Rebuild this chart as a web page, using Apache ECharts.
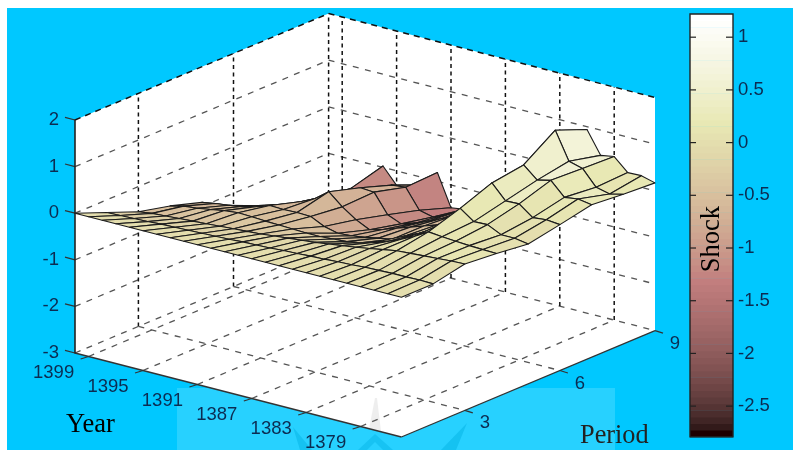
<!DOCTYPE html>
<html>
<head>
<meta charset="utf-8">
<style>html,body{margin:0;padding:0;background:#fff}#c{width:793px;height:450px}</style>
<script src="https://cdn.jsdelivr.net/npm/echarts@6/dist/echarts.min.js"></script>
</head>
<body>
<div id="c"></div>
<script>
// Data: one array per year, values for periods 1..9
const periods = [1,2,3,4,5,6,7,8,9];
const y1400 = [0,-.27,-.54,-.70,-.91,-1.33,-1.70,-2.20,-2.80];
const y1399 = [0,-.26,-.50,-.63,-.86,-1.25,-1.60,-2.00,-2.45];
const y1398 = [0,-.25,-.48,-.60,-.82,-1.12,-1.45,-1.75,-2.05];
const y1397 = [0,-.24,-.46,-.55,-.77,-1.02,-1.28,-1.45,-1.50];
const y1396 = [0,-.22,-.44,-.50,-.70,-.93,-1.10,-1.16,-.97];
const y1395 = [0,-.21,-.42,-.47,-.60,-.80,-.94,-1.20,-1.31];
const y1394 = [0,-.20,-.40,-.48,-.61,-.66,-.82,-1.03,-1.35];
const y1393 = [0,-.19,-.38,-.50,-.60,-.44,-.64,-.87,-1.15];
const y1392 = [0,-.18,-.36,-.51,-.61,-.69,-.66,-.84,-.81];
const y1391 = [0,-.17,-.34,-.52,-.75,-.89,-1.07,-1.26,-1.49];
const y1390 = [0,-.15,-.31,-.53,-.82,-1.03,-1.19,-1.33,-1.45];
const y1389 = [0,-.14,-.28,-.53,-.80,-.95,-1.10,-1.20,-1.30];
const y1388 = [0,-.13,-.25,-.51,-.76,-.85,-.98,-1.05,-1.10];
const y1387 = [0,-.11,-.22,-.49,-.70,-.75,-.85,-.90,-.80];
const y1386 = [0,-.10,-.18,-.44,-.65,-.65,-.70,-.70,-.50];
const y1385 = [0,-.08,-.14,-.36,-.50,-.55,-.55,-.50,-.20];
const y1384 = [0,-.07,-.10,-.26,-.37,-.45,-.35,-.25,.10];
const y1383 = [0,-.05,-.05,-.14,-.20,-.20,-.10,.05,.35];
const y1382 = [0,-.04,.00,.00,.03,.06,.20,.40,.60];
const y1381 = [0,-.02,.05,.17,.39,.65,.75,1.21,.94];
const y1380 = [0,-.01,.07,.14,.18,.34,.50,.62,.46];
const y1379 = [0,.00,.09,.12,.19,.35,.57,.54,.51];
const y1378 = [0,.00,.11,.10,.05,.13,.28,.21,.24];
const y1377 = [0,.01,.13,.09,.05,.16,.32,.14,.25];
const y1376 = [0,.00,.14,.08,.00,.13,.27,.21,.17];
const shockRows = [y1400,y1399,y1398,y1397,y1396,y1395,y1394,y1393,y1392,y1391,y1390,y1389,y1388,
  y1387,y1386,y1385,y1384,y1383,y1382,y1381,y1380,y1379,y1378,y1377,y1376];
const yearStart = 1400, yearEnd = 1376;
const yearTicks = [1399,1395,1391,1387,1383,1379];
const periodTicks = [3,6,9];
const shockTicks = [2,1,0,-1,-2,-3];
const colorbarTicks = [1,0.5,0,-0.5,-1,-1.5,-2,-2.5];
const shockMin = -2.79, shockMax = 1.22;

// Oblique projection of the 3D box on the 2D axes (x axis in period units, y axis in shock units)
const PX_PER_PERIOD = 31.7, PX_PER_SHOCK = 46.6;
const YEAR_DX = 13.6, YEAR_DY = 3.5, PERIOD_DY = 13.3;
function project(p, yr, z){
  const d = yearStart - yr;
  return [p + d * YEAR_DX / PX_PER_PERIOD,
          z + (p - 1) * PERIOD_DY / PX_PER_SHOCK - d * YEAR_DY / PX_PER_SHOCK];
}
// MATLAB "pink" colormap, 64 levels
function pink(lv){
  const c = v => Math.max(0, Math.min(1, v));
  const f = lv/63;
  const r = c((lv+1)/24), g = c((lv+1-24)/24), b = c((lv+1-48)/16);
  const m = h => Math.round(255*Math.sqrt((2*f+h)/3));
  return `rgb(${m(r)},${m(g)},${m(b)})`;
}
function colorOf(z){
  return pink(Math.max(0, Math.min(63, Math.floor((z-shockMin)/(shockMax-shockMin)*64))));
}
const TXT = '#0c2c52', LABEL_SIZE = 18.5, LABEL_FONT = LABEL_SIZE+'px "Liberation Sans"';

// Surface cells, back to front
const cellData = [];
for (let r = 0; r < shockRows.length-1; r++){
  for (let c = periods.length-2; c >= 0; c--){
    const y0 = yearStart - r;
    cellData.push([periods[c], y0, shockRows[r][c], shockRows[r][c+1], shockRows[r+1][c+1], shockRows[r+1][c]]);
  }
}
// Colorbar levels
const levels = [];
for (let i = 0; i < 64; i++) levels.push([i]);

function backdrop(params, api){
  const P = (p,y,z) => api.coord(project(p,y,z));
  const ch = [];
  const ln = (a,b,stroke,w,dash) => ch.push({type:'line',shape:{x1:a[0],y1:a[1],x2:b[0],y2:b[1]},
    style:{stroke,lineWidth:w,lineDash:dash||null,fill:null},silent:true});
  const pLo = 1, pHi = 9, zLo = -3, zHi = 2;
  ch.push({type:'polygon',shape:{points:[P(pLo,yearStart,zHi),P(pHi,yearStart,zHi),P(pHi,yearEnd,zHi),P(pHi,yearEnd,zLo),P(pLo,yearEnd,zLo),P(pLo,yearStart,zLo)]},
    style:{fill:'#fff',stroke:null}});
  const GH = '#555', dH = [6,6.5], dV = [4,3.5], wH = 1.3;
  shockTicks.forEach(z=>{
    if (z===zLo || z===zHi) return;
    ln(P(pLo,yearStart,z),P(pHi,yearStart,z),GH,wH,dH);
    ln(P(pHi,yearStart,z),P(pHi,yearEnd,z),GH,wH,dH);
  });
  ln(P(pLo,yearStart,zHi),P(pHi,yearStart,zHi),'#111',1.5,[6,5]);
  ln(P(pHi,yearStart,zHi),P(pHi,yearEnd,zHi),'#111',1.5,[6,5]);
  periodTicks.forEach(p=>{
    ln(P(p,yearStart,zLo),P(p,yearStart,zHi),'#111',1.5,dV);
    if (p!==pHi) ln(P(p,yearStart,zLo),P(p,yearEnd,zLo),GH,wH,dH);
  });
  ln(P(pLo,yearStart,zLo),P(pHi,yearStart,zLo),GH,wH,dH);
  ln(P(pHi,yearStart,zLo),P(pHi,yearEnd,zLo),GH,wH,dH);
  yearTicks.forEach(y=>{
    ln(P(pHi,y,zLo),P(pHi,y,zHi),'#111',1.5,dV);
    ln(P(pLo,y,zLo),P(pHi,y,zLo),GH,wH,dH);
  });
  // solid floor edges
  ln(P(pLo,yearStart,zLo),P(pLo,yearEnd,zLo),'#333',1.3);
  ln(P(pLo,yearEnd,zLo),P(pHi,yearEnd,zLo),'#333',1.3);
  // ticks and their labels
  yearTicks.forEach(y=>{
    const a = P(pLo,y,zLo);
    ln(a,[a[0]-8,a[1]+2.5],'#333',1.2);
    ch.push({type:'text',style:{text:String(y),x:a[0]-35,y:a[1]+16,font:LABEL_FONT,fill:TXT,align:'center',verticalAlign:'middle'}});
  });
  periodTicks.forEach(p=>{
    const a = P(p,yearEnd,zLo);
    ln(a,[a[0]+8,a[1]+2.5],'#333',1.2);
    ch.push({type:'text',style:{text:String(p),x:a[0]+20,y:a[1]+13,font:LABEL_FONT,fill:TXT,align:'center',verticalAlign:'middle'}});
  });
  shockTicks.forEach(z=>{
    const a = P(pLo,yearStart,z);
    ln(a,[a[0]-10,a[1]-2.6],'#333',1.2);
  });
  return {type:'group',children:ch};
}

function surface(params, api){
  const p = api.value(0), y = api.value(1);
  const a = api.coord(project(p,y,api.value(2)));
  const b = api.coord(project(p+1,y,api.value(3)));
  const c = api.coord(project(p+1,y-1,api.value(4)));
  const d = api.coord(project(p,y-1,api.value(5)));
  return {type:'polygon',shape:{points:[a,b,c,d]},
    style:{fill:colorOf(api.value(5)),stroke:'#1c1c1c',lineWidth:1.1,lineJoin:'round'}};
}

function colorbar(params, api){
  const i = api.value(0), step = (shockMax-shockMin)/64;
  const a = api.coord([0,shockMin+i*step]), b = api.coord([1,shockMin+(i+1)*step]);
  return {type:'rect',shape:{x:a[0],y:b[1],width:b[0]-a[0],height:a[1]-b[1]+0.5},style:{fill:pink(i),stroke:null}};
}
function colorbarFrame(params, api){
  const a = api.coord([0,shockMin]), b = api.coord([1,shockMax]);
  const ch = [{type:'rect',shape:{x:a[0],y:b[1],width:b[0]-a[0],height:a[1]-b[1]},style:{fill:null,stroke:'#222',lineWidth:1.4}}];
  colorbarTicks.forEach(t=>{
    const q = api.coord([0,t]), r = api.coord([1,t]);
    ch.push({type:'line',shape:{x1:q[0],y1:q[1],x2:q[0]+6,y2:q[1]},style:{stroke:'#222',lineWidth:1.2}});
    ch.push({type:'line',shape:{x1:r[0],y1:r[1],x2:r[0]-7,y2:r[1]},style:{stroke:'#222',lineWidth:1.2}});
  });
  return {type:'group',children:ch};
}

const chart = echarts.init(document.getElementById('c'), null, {renderer:'canvas'});
chart.setOption({
  animation:false,
  backgroundColor:'#fff',
  tooltip:{show:false},
  graphic:[
    {type:'rect',z:-10,shape:{x:7,y:8,width:786,height:442},style:{fill:'#00c8ff'}},
    {type:'rect',z:-9,shape:{x:177,y:388,width:438,height:62},style:{fill:'#27d1ff'}},
    {type:'polygon',z:-8,shape:{points:[[375,434],[358,450],[367,450],[375,442],[383,450],[393,450]]},style:{fill:'rgba(0,175,225,.4)'}},
    {type:'polygon',z:-8,shape:{points:[[467,423],[441,450],[456,450]]},style:{fill:'rgba(0,175,225,.45)'}},
    {type:'polygon',z:-8,shape:{points:[[293,427],[312,450],[300,450]]},style:{fill:'rgba(0,175,225,.45)'}},
    {type:'polygon',z:50,shape:{points:[[375,398],[377,398],[381,431],[369,429]]},style:{fill:'rgba(120,120,120,.13)'}},
    {type:'text',z:60,x:66,y:412,style:{text:'Year',font:'26.5px "Liberation Serif"',fill:'#000'}},
    {type:'text',z:60,x:580,y:423,style:{text:'Period',font:'26.3px "Liberation Serif"',fill:'#222'}},
    {type:'text',z:60,x:712,y:239,rotation:Math.PI/2,style:{text:'Shock',font:'26.5px "Liberation Serif"',fill:'#000',align:'center',verticalAlign:'middle'}}
  ],
  grid:[
    {left:75,top:120,width:8*PX_PER_PERIOD,height:233,containLabel:false},
    {left:690,top:14,width:43,height:422.7,containLabel:false}
  ],
  xAxis:[
    {gridIndex:0,type:'value',min:1,max:9,show:false},
    {gridIndex:1,type:'value',min:0,max:1,show:false}
  ],
  yAxis:[
    {gridIndex:0,type:'value',min:-3,max:2,interval:1,position:'left',splitLine:{show:false},
     axisLine:{show:true,onZero:false,lineStyle:{color:'#222',width:1.6}},axisTick:{show:false},
     axisLabel:{margin:16,color:TXT,fontFamily:'Liberation Sans',fontSize:LABEL_SIZE,padding:[0,0,4,0]},z:4},
    {gridIndex:1,type:'value',min:shockMin,max:shockMax,position:'right',splitLine:{show:false},
     axisLine:{show:false},
     axisTick:{show:false},
     axisLabel:{margin:5,color:TXT,fontFamily:'Liberation Sans',fontSize:LABEL_SIZE,customValues:colorbarTicks},z:6}
  ],
  series:[
    {type:'custom',name:'box',xAxisIndex:0,yAxisIndex:0,coordinateSystem:'cartesian2d',clip:false,silent:true,z:1,data:[[1,0]],renderItem:backdrop},
    {type:'custom',name:'Shock',xAxisIndex:0,yAxisIndex:0,coordinateSystem:'cartesian2d',clip:false,silent:true,z:3,
      encode:{x:0,y:2},data:cellData,renderItem:surface},
    {type:'custom',name:'bar',xAxisIndex:1,yAxisIndex:1,coordinateSystem:'cartesian2d',clip:false,silent:true,z:3,
      encode:{y:0},data:levels,renderItem:colorbar},
    {type:'custom',name:'barFrame',xAxisIndex:1,yAxisIndex:1,coordinateSystem:'cartesian2d',clip:false,silent:true,z:5,data:[[0]],renderItem:colorbarFrame}
  ]
});
</script>
</body>
</html>
